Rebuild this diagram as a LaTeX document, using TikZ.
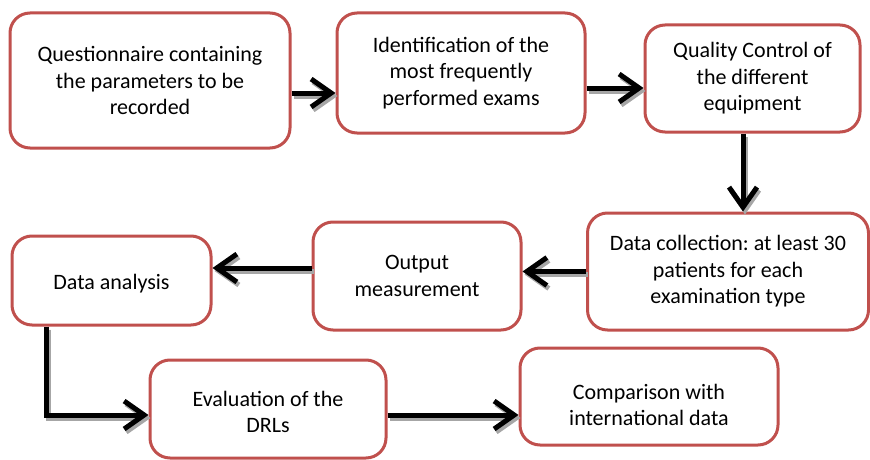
\documentclass[tikz,border=0pt]{standalone}
\usepackage{fontspec}
\setmainfont{Carlito}
\usetikzlibrary{arrows.meta,calc}
\definecolor{boxred}{RGB}{192,80,77}
\frenchspacing
\tikzset{
  box/.style={draw=boxred, line width=3pt, rounded corners=20pt, fill=white,
    align=center, inner sep=0pt, font=\fontsize{22}{26.5}\selectfont},
  txt/.style={align=center, inner sep=0pt, font=\fontsize{22}{26.5}\selectfont},
  arr/.style={line width=5pt, black, -{Straight Barb[length=20pt,width=28pt]}},
  arrsh/.style={line width=5pt, black!35, -{Straight Barb[length=20pt,width=28pt]},
    transform canvas={xshift=2pt,yshift=-3pt}}
}
\newcommand\sarrow[1]{\draw[arrsh] #1; \draw[arr] #1;}
\begin{document}
\begin{tikzpicture}[x=1pt,y=-1pt]
\useasboundingbox (0,0) rectangle (870,460);
\node[box, minimum width=280pt, minimum height=135pt] (q) at (150,80.5)
  {Questionnaire containing\\the parameters to be\\recorded};
\node[box, minimum width=248pt, minimum height=120pt] (id) at (461,73)
  {Identification of the\\most frequently\\performed exams};
\node[box, minimum width=215pt, minimum height=107pt] (qc) at (752.5,78.5)
  {Quality Control of\\the different\\equipment};
\node[box, minimum width=281pt, minimum height=117pt] (dc) at (728,271.5)
  {Data collection: at least 30\\patients for each\\examination type};
\node[box, minimum width=208pt, minimum height=108pt] (om) at (417,276)
  {Output\\measurement};
\node[box, minimum width=199pt, minimum height=89pt] (da) at (111.5,280.5) {};
\node[txt] (dat) at (111.5,283.5) {Data analysis};
\node[box, minimum width=236pt, minimum height=98pt] (ev) at (268,409) {};
\node[txt] (evt) at (268,412) {Evaluation of the\\DRLs};
\node[box, minimum width=258pt, minimum height=97pt] (cm) at (649,396.5) {};
\node[txt] (cmt) at (649,405) {Comparison with\\international data};
\sarrow{([yshift=-12.5pt]q.east) -- ([yshift=-12.5pt]q.east -| id.west)}
\sarrow{([yshift=-15pt]id.east) -- ([yshift=-15pt]id.east -| qc.west)}
\sarrow{([xshift=-9.5pt]qc.south) -- ([xshift=-9.5pt]qc.south |- dc.north)}
\sarrow{(dc.west) -- (dc.west -| om.east)}
\sarrow{([yshift=8pt]om.west) -- ([yshift=8pt]om.west -| da.east)}
\sarrow{([xshift=-65pt]da.south) -- ([xshift=-65pt,yshift=-6pt]da.south |- ev.west) -- ([yshift=-6pt]ev.west)}
\sarrow{([yshift=-6pt]ev.east) -- ([yshift=-6pt]ev.east -| cm.west)}
\end{tikzpicture}
\end{document}
